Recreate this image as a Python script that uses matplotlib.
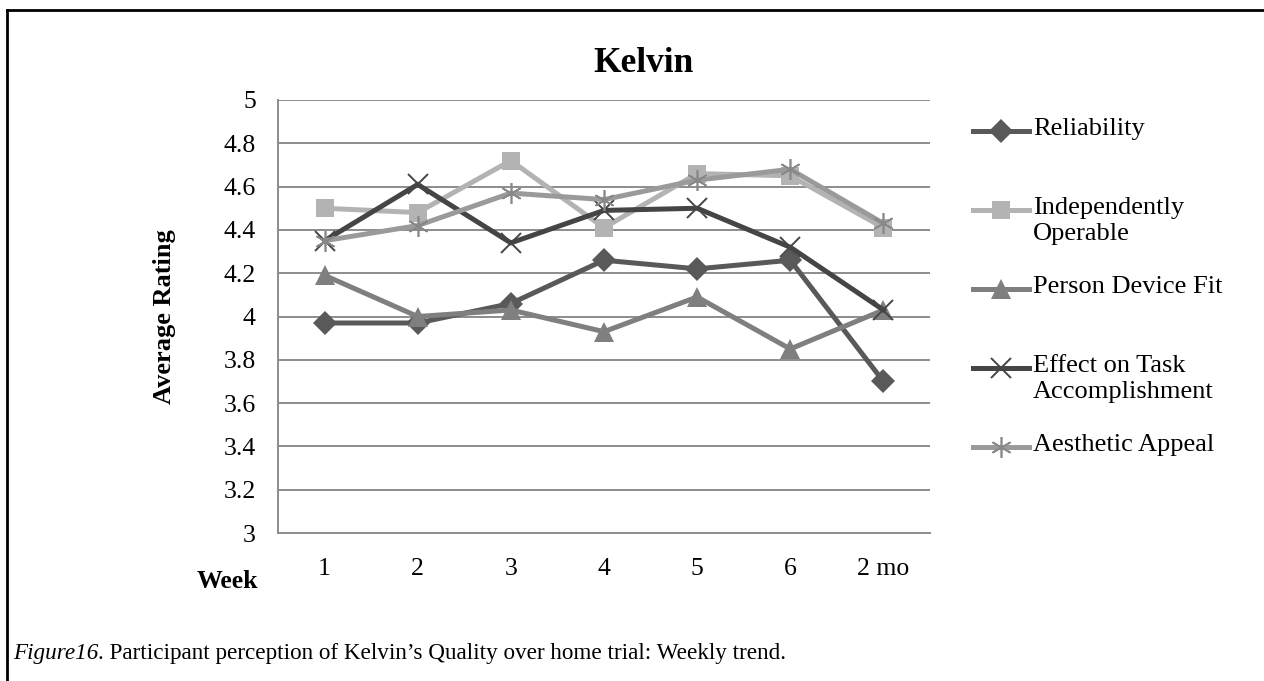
import matplotlib
matplotlib.use("Agg")
import matplotlib.pyplot as plt
from matplotlib.lines import Line2D

plt.rcParams["font.family"] = ["Liberation Serif", "DejaVu Serif"]

weeks = ["1", "2", "3", "4", "5", "6", "2 mo"]
series_names = ["Reliability", "Independently\nOperable", "Person Device Fit",
                "Effect on Task\nAccomplishment", "Aesthetic Appeal"]
reliability = [3.97, 3.97, 4.06, 4.26, 4.22, 4.26, 3.70]
independently_operable = [4.50, 4.48, 4.72, 4.41, 4.66, 4.65, 4.41]
person_device_fit = [4.19, 4.00, 4.03, 3.93, 4.09, 3.85, 4.03]
effect_on_task = [4.35, 4.61, 4.34, 4.49, 4.50, 4.32, 4.03]
aesthetic_appeal = [4.35, 4.42, 4.57, 4.54, 4.63, 4.68, 4.43]
yticks = [3, 3.2, 3.4, 3.6, 3.8, 4, 4.2, 4.4, 4.6, 4.8, 5]

values = [reliability, independently_operable, person_device_fit,
          effect_on_task, aesthetic_appeal]
styles = [
    dict(color="#595959", marker="D", markersize=12, mew=0),
    dict(color="#b3b3b3", marker="s", markersize=13, mew=0),
    dict(color="#7f7f7f", marker="^", markersize=14, mew=0),
    dict(color="#454545", marker="x", markersize=15, mew=1.4),
    dict(color="#9a9a9a", marker=(6, 2, 0), markersize=15, mew=1.2,
         markeredgecolor="#888888"),
]

W, H = 1264, 681
fig = plt.figure(figsize=(W / 100, H / 100), dpi=100)

def px(x, y):
    # pixel position -> figure fraction
    return x / W, 1 - y / H

# plot area
left, top = px(278, 100)
right, bottom = px(930, 533)
ax = fig.add_axes([left, bottom, right - left, top - bottom])

x = list(range(len(weeks)))
for vals, st in zip(values, styles):
    ax.plot(x, vals, lw=3.6, solid_joinstyle="miter", clip_on=False, **st)

ax.set_xlim(-0.5, len(weeks) - 0.5)
ax.set_ylim(3, 5)
ax.set_yticks(yticks)
ax.set_yticklabels(["%g" % t for t in yticks])
ax.set_xticks(x)
ax.set_xticklabels(weeks)
ax.tick_params(length=0, labelsize=18.5, colors="black")
ax.tick_params(axis="y", pad=16)
ax.tick_params(axis="x", pad=18)
ax.yaxis.grid(True, color="#8c8c8c", lw=1.4)
ax.set_axisbelow(True)
for s in ["top", "right"]:
    ax.spines[s].set_visible(False)
for s in ["left", "bottom"]:
    ax.spines[s].set_color("#8c8c8c")
    ax.spines[s].set_linewidth(1.4)

ax.set_ylabel("Average Rating", fontsize=19, fontweight="bold", labelpad=34)
fig.text(*px(258, 582), "Week", ha="right", va="center",
         fontsize=18.5, fontweight="bold")
fig.text(*px(643, 64), "Kelvin", ha="center", va="center",
         fontsize=25.5, fontweight="bold")

# legend entries, evenly spaced, marker aligned with the first text line
leg_y = [131, 210, 289, 368, 447]
for name, st, yy in zip(series_names, styles, leg_y):
    xa, ya = px(973, yy)
    xb, _ = px(1029, yy)
    fig.add_artist(Line2D([xa, (xa + xb) / 2, xb], [ya] * 3, lw=3.6,
                          markevery=[1], transform=fig.transFigure, **st))
    fig.text(*px(1033, yy - 13), name, ha="left", va="top",
             fontsize=19, linespacing=1.22)

# frame around the chart (top and left edges)
fx, fy = px(7, 10)
fig.add_artist(Line2D([fx, fx], [fy, 0], color="black", lw=2,
                      transform=fig.transFigure))
fig.add_artist(Line2D([fx, 1], [fy, fy], color="black", lw=2,
                      transform=fig.transFigure))

# caption: italic figure number followed by plain text
cap = fig.text(*px(13, 653), "Figure16", ha="left", va="center",
               fontsize=16.7, style="italic")
ax.annotate(". Participant perception of Kelvin\u2019s Quality over home trial: Weekly trend.",
            xy=(1, 0), xycoords=cap, ha="left", va="bottom", fontsize=16.7,
            annotation_clip=False)

fig.savefig("out.png", dpi=100)
